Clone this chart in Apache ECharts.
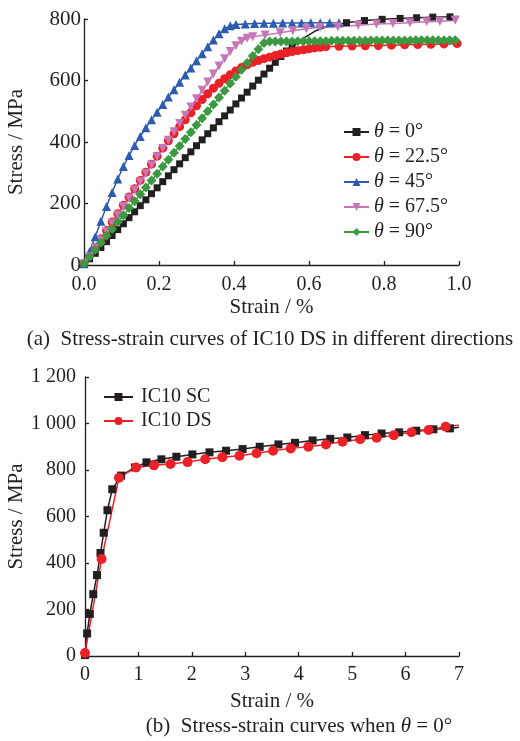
<!DOCTYPE html>
<html><head><meta charset="utf-8">
<script src="https://cdn.jsdelivr.net/npm/echarts@6/dist/echarts.min.js"></script>
<style>html,body{margin:0;padding:0;background:#fff}#c{width:520px;height:741px}</style>
</head><body><div id="c"></div>
<script>
// ---------- data (a) ----------
const topNames = ['θ = 0°', 'θ = 22.5°', 'θ = 45°', 'θ = 67.5°', 'θ = 90°'];
const theta0 = [[0,4],[0.015,20],[0.03,38],[0.045,57],[0.06,76],[0.075,96],[0.09,115],[0.105,134],[0.12,154],[0.135,173],[0.15,193],[0.165,212],[0.18,232],[0.195,251],[0.21,271],[0.225,290],[0.24,310],[0.255,329],[0.27,349],[0.285,368],[0.3,388],[0.315,407],[0.33,427],[0.345,446],[0.36,466],[0.375,485],[0.39,504],[0.405,524],[0.42,543],[0.435,562],[0.45,582],[0.465,601],[0.48,621],[0.495,640],[0.51,659],[0.525,678],[0.54,696],[0.555,711],
  [0.575,728],[0.59,741],[0.6,748],[0.615,760],[0.635,770],[0.66,779],
  [0.7,788],[0.748,795],[0.795,799],[0.843,802],[0.887,804],[0.93,806],[0.976,807],[1.0,808]];
const theta22 = [[0,4],[0.015,30],[0.03,57],[0.045,85],[0.06,112],[0.075,140],[0.09,167],[0.105,194],[0.12,221],[0.135,248],[0.15,275],[0.165,302],[0.18,328],[0.195,354],[0.21,380],[0.225,404],[0.24,427],[0.255,450],[0.27,472],[0.285,495],[0.3,518],[0.315,538],[0.33,557],[0.345,575],[0.36,591],[0.375,606],[0.39,619],[0.405,631],[0.42,642],[0.435,651],[0.45,659],[0.465,665],[0.48,671],[0.495,676],[0.51,681],[0.525,686],[0.54,690],[0.555,694],[0.57,697],[0.585,700],[0.6,703],[0.615,706],[0.63,708],[0.645,710],
  [0.68,711],[0.715,712],[0.75,713],[0.785,714],[0.82,715],[0.855,716],[0.89,717],[0.925,718],[0.96,719],[0.995,720]];
const theta45 = [[0,4],[0.015,44],[0.03,92],[0.045,142],[0.06,190],[0.075,236],[0.09,280],[0.105,320],[0.12,356],[0.135,389],[0.15,418],[0.165,446],[0.18,472],[0.195,497],[0.21,522],[0.225,546],[0.24,570],[0.255,594],[0.27,618],[0.285,641],[0.3,664],[0.315,687],[0.33,710],[0.345,732],[0.36,752],[0.375,768],[0.39,778],[0.405,782],
  [0.43,784],[0.455,785],[0.48,786],[0.505,786],[0.53,787],[0.555,787],[0.58,787],[0.605,788],[0.63,788],[0.655,788],[0.68,788]];
const theta67 = [[0,4],[0.015,28],[0.03,55],[0.045,82],[0.06,109],[0.075,136],[0.09,163],[0.105,190],[0.12,217],[0.135,244],[0.15,271],[0.165,298],[0.18,325],[0.195,352],[0.21,379],[0.225,406],[0.24,433],[0.255,460],[0.27,487],[0.285,514],[0.3,541],[0.315,568],[0.33,595],[0.345,621],[0.36,647],[0.375,671],[0.39,694],[0.405,713],[0.42,728],[0.435,737],[0.45,742],
  [0.483,748],[0.523,755],[0.557,762],[0.593,768],[0.629,773],[0.677,775],[0.731,780],[0.78,784],[0.824,785],[0.869,788],[0.914,791],[0.949,792],[0.99,796]];
const theta90 = [[0,5],[0.015,27],[0.03,50],[0.045,72],[0.06,95],[0.075,117],[0.09,140],[0.105,162],[0.12,185],[0.135,207],[0.15,230],[0.165,252],[0.18,275],[0.195,297],[0.21,320],[0.225,342],[0.24,365],[0.255,387],[0.27,410],[0.285,432],[0.3,455],[0.315,477],[0.33,500],[0.345,522],[0.36,545],[0.375,567],[0.39,590],[0.405,612],[0.42,635],[0.435,657],[0.45,680],[0.465,702],[0.48,722],[0.495,727],
  [0.51,727],[0.525,727],[0.54,727],[0.555,727],[0.57,728],[0.585,728],[0.6,728],[0.615,728],[0.63,728],[0.645,728],[0.66,729],[0.675,729],[0.69,729],[0.705,729],[0.72,729],[0.735,729],[0.75,729],[0.765,730],[0.78,730],[0.795,730],[0.81,730],[0.825,730],[0.84,730],[0.855,730],[0.87,730],[0.885,731],[0.9,731],[0.915,731],[0.93,731],[0.945,731],[0.96,731],[0.975,731],[0.99,731]];
const topXTicks = [0, 0.2, 0.4, 0.6, 0.8, 1.0];
const topYTicks = [0, 200, 400, 600, 800];

// ---------- data (b) ----------
const bottomNames = ['IC10 SC', 'IC10 DS'];
const ic10SC = [[0,4],[0.04,97],[0.09,181],[0.155,266],[0.225,348],[0.29,443],[0.35,530],[0.42,627],[0.51,717],[0.676,776],[0.935,811],[1.15,833],[1.43,846],[1.71,857],[2.01,867],[2.33,876],[2.64,883],[2.95,890],[3.27,900],[3.62,910],[3.93,917],[4.26,927],[4.59,934],[4.91,940],[5.24,950],[5.55,957],[5.88,962],[6.2,969],[6.52,975],[6.83,979],[7.0,984]];
const ic10DS = [[0,13],[0.31,417],[0.636,767],[0.955,811],[1.29,820],[1.6,826],[1.92,834],[2.25,846],[2.57,855],[2.89,861],[3.21,872],[3.52,883],[3.85,893],[4.18,900],[4.51,910],[4.82,922],[5.15,932],[5.46,939],[5.78,950],[6.11,962],[6.43,972],[6.75,986],[7.0,993]];
const botXTicks = [0, 1, 2, 3, 4, 5, 6, 7];
const botYTicks = [0, 200, 400, 600, 800, 1000, 1200];

const captionA = '(a)  Stress-strain curves of IC10 DS in different directions';
const captionB = '(b)  Stress-strain curves when θ = 0°';

// ---------- styling ----------
const FONT = '"Liberation Serif", "Times New Roman", serif';
const TXT = '#231f20';
const FS = 20;
const richTheta = { i: { fontStyle: 'italic', fontFamily: FONT, fontSize: FS, color: TXT } };
const withTheta = s => s.replace('θ', '{i|θ}');

function axisCommon(ticks, fmt, labelMargin, fontSize) {
  return {
    type: 'value',
    min: ticks[0], max: ticks[ticks.length - 1], interval: ticks[1] - ticks[0],
    axisLine: { show: true, onZero: false, lineStyle: { color: TXT, width: 1.3 } },
    axisTick: { show: true, inside: true, length: 4, lineStyle: { color: TXT, width: 1.3 } },
    splitLine: { show: false },
    axisLabel: { formatter: fmt, fontFamily: FONT, fontSize: fontSize, color: TXT, margin: labelMargin },
    nameLocation: 'middle',
    nameMoveOverlap: false,
    nameTextStyle: { fontFamily: FONT, fontSize: 21, color: TXT }
  };
}

function mkSeries(name, data, color, symbol, size, opts) {
  opts = opts || {};
  const hide = opts.hide;
  return {
    type: 'line', name: name, data: data,
    xAxisIndex: opts.grid || 0, yAxisIndex: opts.grid || 0,
    clip: false, symbol: symbol,
    symbolSize: v => (hide && hide(v[0])) ? 0 : size,
    symbolRotate: opts.rotate || 0,
    lineStyle: { color: color, width: opts.lw || 1.5 },
    itemStyle: { color: color },
    emphasis: { disabled: true },
    animation: false
  };
}

const C = { k: '#231f20', r: '#ec2027', b: '#2c5caf', m: '#c675b6', g: '#3b9a41' };

const option = {
  animation: false,
  backgroundColor: '#fff',
  grid: [
    { left: 84, top: 19, width: 375, height: 246, outerBoundsMode: 'none', containLabel: false },
    { left: 85, top: 377, width: 374, height: 279, outerBoundsMode: 'none', containLabel: false }
  ],
  xAxis: [
    Object.assign(axisCommon(topXTicks, v => v.toFixed(1), 10, FS), { gridIndex: 0, name: 'Strain / %', nameGap: 32 }),
    Object.assign(axisCommon(botXTicks, v => String(v), 9, FS), { gridIndex: 1, name: 'Strain / %', nameGap: 35 })
  ],
  yAxis: [
    Object.assign(axisCommon(topYTicks, v => String(v), 3, 21), { gridIndex: 0, name: 'Stress / MPa', nameGap: 57 }),
    Object.assign(axisCommon(botYTicks, v => v >= 1000 ? Math.floor(v / 1000) + ' ' + String(v % 1000).padStart(3, '0') : String(v), 9, FS), { gridIndex: 1, name: 'Stress / MPa', nameGap: 58 })
  ],
  legend: [
    {
      data: topNames, orient: 'vertical', left: 338, top: 117,
      itemWidth: 25, itemHeight: 10, itemGap: 5,
      formatter: n => withTheta(n),
      textStyle: { fontFamily: FONT, fontSize: FS, color: TXT, lineHeight: 20, rich: richTheta },
      selectedMode: false
    },
    {
      data: bottomNames, orient: 'vertical', left: 98, top: 382,
      itemWidth: 29, itemHeight: 10, itemGap: 4,
      textStyle: { fontFamily: FONT, fontSize: FS, color: TXT, lineHeight: 20, padding: [0, 0, 0, 3] },
      selectedMode: false
    }
  ],
  graphic: [
    { type: 'text', x: 270, y: 339, silent: true,
      style: { text: captionA, font: '21px ' + FONT, fill: TXT, align: 'center', verticalAlign: 'middle' } },
    { type: 'text', x: 299, y: 726, silent: true,
      style: { text: withTheta(captionB), font: '21px ' + FONT, fill: TXT, align: 'center', verticalAlign: 'middle',
        rich: { i: { fontStyle: 'italic', fontFamily: FONT, fontSize: 21, fill: TXT } } } }
  ],
  series: [
    mkSeries(topNames[0], theta0, C.k, 'rect', 7, { hide: x => (x > 0.56 && x < 0.69) || x > 0.99 }),
    mkSeries(topNames[1], theta22, C.r, 'circle', 9),
    mkSeries(topNames[2], theta45, C.b, 'triangle', 9),
    mkSeries(topNames[3], theta67, C.m, 'triangle', 9, { rotate: 180 }),
    mkSeries(topNames[4], theta90, C.g, 'diamond', 10),
    mkSeries(bottomNames[0], ic10SC, C.k, 'rect', 8, { grid: 1, hide: x => x > 6.95 }),
    mkSeries(bottomNames[1], ic10DS, C.r, 'circle', 10, { grid: 1, hide: x => x > 6.95 })
  ]
};

const chart = echarts.init(document.getElementById('c'), null, { renderer: 'canvas' });
chart.setOption(option);
</script>
</body></html>
